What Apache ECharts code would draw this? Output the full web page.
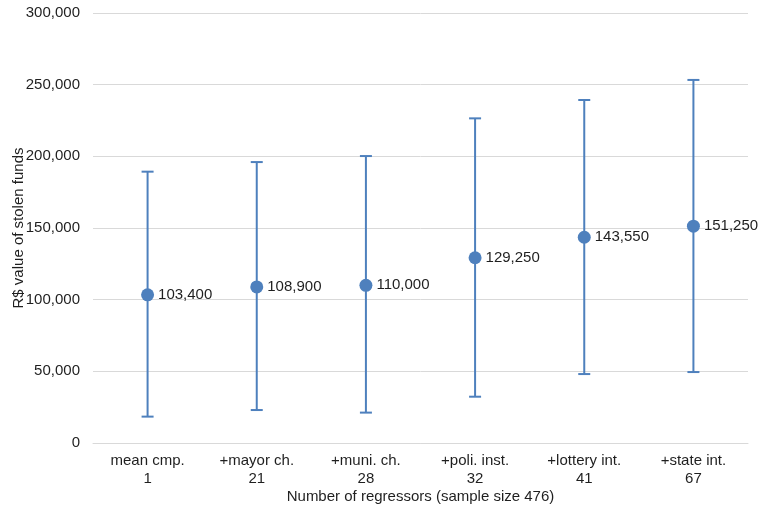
<!DOCTYPE html>
<html>
<head>
<meta charset="utf-8">
<script src="https://cdn.jsdelivr.net/npm/echarts@6/dist/echarts.min.js"></script>
<style>
  html, body { margin: 0; padding: 0; background: #fff; }
  #chart { width: 761px; height: 507px; }
</style>
</head>
<body>
<div id="chart"></div>
<script>
// Estimated stolen funds per specification, with confidence bounds
const specNames = ['mean cmp.', '+mayor ch.', '+muni. ch.', '+poli. inst.', '+lottery int.', '+state int.'];
const regressorCounts = ['1', '21', '28', '32', '41', '67'];
const estimates = [103400, 108900, 110000, 129250, 143550, 151250];
const upperBounds = [189300, 196000, 200200, 226500, 239300, 253300];
const lowerBounds = [18400, 23000, 21200, 32300, 48100, 49500];
const yTicks = [0, 50000, 100000, 150000, 200000, 250000, 300000];

const categories = specNames.map((n, i) => n + '\n' + regressorCounts[i]);
const blue = '#4e80bd';
const textColor = '#1f1f1f';
const font = 'Liberation Sans, Arial, sans-serif';
const fontSize = 15;

const fmt = v => v.toLocaleString('en-US');

const chart = echarts.init(document.getElementById('chart'));
chart.setOption({
  animation: false,
  grid: { left: 93, right: 13, top: 13, bottom: 64, outerBoundsMode: 'none', containLabel: false },
  xAxis: {
    type: 'category',
    data: categories,
    name: 'Number of regressors (sample size 476)',
    nameLocation: 'middle',
    nameGap: 46,
    nameMoveOverlap: false,
    nameTextStyle: { fontFamily: font, fontSize: fontSize, color: textColor },
    axisLine: { show: true, lineStyle: { color: '#d9d9d9', width: 1 } },
    axisTick: { show: false },
    axisLabel: { fontFamily: font, fontSize: fontSize, color: textColor, lineHeight: 18, margin: 9, interval: 0 }
  },
  yAxis: {
    type: 'value',
    min: yTicks[0],
    max: yTicks[yTicks.length - 1],
    interval: yTicks[1] - yTicks[0],
    name: 'R$ value of stolen funds',
    nameLocation: 'middle',
    nameGap: 67,
    nameMoveOverlap: false,
    nameTextStyle: { fontFamily: font, fontSize: fontSize, color: textColor },
    axisLine: { show: false },
    axisTick: { show: false },
    splitLine: { lineStyle: { color: '#d9d9d9', width: 1 } },
    axisLabel: { fontFamily: font, fontSize: fontSize, color: textColor, margin: 13, formatter: v => fmt(v) }
  },
  series: [
    {
      type: 'custom',
      name: 'bounds',
      data: lowerBounds.map((lo, i) => [i, lo, upperBounds[i]]),
      renderItem: (params, api) => {
        const x = api.value(0);
        const lo = api.coord([x, api.value(1)]);
        const hi = api.coord([x, api.value(2)]);
        const half = 6;
        const style = { stroke: blue, lineWidth: 2 };
        return {
          type: 'group',
          children: [
            { type: 'line', shape: { x1: lo[0], y1: lo[1], x2: hi[0], y2: hi[1] }, style },
            { type: 'line', shape: { x1: hi[0] - half, y1: hi[1], x2: hi[0] + half, y2: hi[1] }, style },
            { type: 'line', shape: { x1: lo[0] - half, y1: lo[1], x2: lo[0] + half, y2: lo[1] }, style }
          ]
        };
      },
      z: 2
    },
    {
      type: 'scatter',
      name: 'estimate',
      data: estimates,
      symbol: 'circle',
      symbolSize: 13,
      itemStyle: { color: blue, opacity: 1 },
      label: {
        show: true,
        position: 'right',
        distance: 4,
        fontFamily: font,
        fontSize: fontSize,
        color: textColor,
        formatter: p => fmt(p.value)
      },
      z: 3
    }
  ]
});
</script>
</body>
</html>
